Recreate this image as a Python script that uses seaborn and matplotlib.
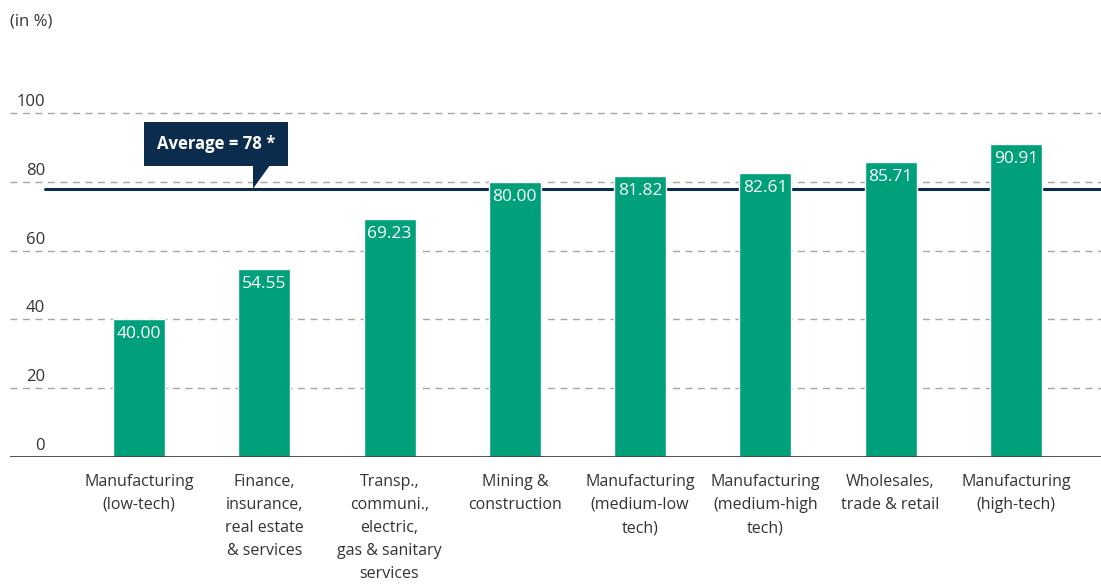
import pandas as pd
import seaborn as sns
import matplotlib.pyplot as plt
from matplotlib.patches import Polygon

# Data
sectors = ['Manufacturing\n(low-tech)',
           'Finance,\ninsurance,\nreal estate\n& services',
           'Transp.,\ncommuni.,\nelectric,\ngas & sanitary\nservices',
           'Mining &\nconstruction',
           'Manufacturing\n(medium-low\ntech)',
           'Manufacturing\n(medium-high\ntech)',
           'Wholesales,\ntrade & retail',
           'Manufacturing\n(high-tech)']
shares = [40.00, 54.55, 69.23, 80.00, 81.82, 82.61, 85.71, 90.91]
average = 78
yticks = [0, 20, 40, 60, 80, 100]

df = pd.DataFrame({'sector': sectors, 'share': shares})

green = '#00a07a'
navy = '#0c2c4e'
grey_txt = '#333333'

sns.set_style('white')
plt.rcParams['font.family'] = ['Open Sans', 'DejaVu Sans']

fig = plt.figure(figsize=(11.01, 5.84), dpi=100)
ax = fig.add_axes([10 / 1101, 127 / 584, 1091 / 1101, 344 / 584])

# grid lines (dashed) behind everything
for t in yticks:
    if t > 0:
        ax.axhline(t, color='#a6a6a6', lw=1, ls=(0, (5, 4)), zorder=0, clip_on=False)
    ax.annotate(str(t), xy=(0, t), xycoords=('axes fraction', 'data'),
                xytext=(35, 3), textcoords='offset pixels',
                ha='right', va='bottom', fontsize=12, color=grey_txt)

# average line
ax.axhline(average, xmin=35 / 1091, xmax=1, color=navy, lw=2.2, zorder=1)

sns.barplot(data=df, x='sector', y='share', color=green, width=0.415,
            saturation=1, ax=ax, zorder=2)

for i, v in enumerate(shares):
    ax.annotate(f'{v:.2f}', xy=(i, v), xytext=(0, -15), textcoords='offset pixels',
                ha='center', va='center', color='white', fontsize=12.5, zorder=3)

# average callout
ax.text(0.615, 91, f'Average = {average} *', ha='center', va='center',
        color='white', fontsize=12, fontweight='bold', zorder=4,
        bbox=dict(boxstyle='square,pad=0.78', fc=navy, ec='none'))
ax.add_patch(Polygon([(0.91, 84.8), (1.045, 84.8), (0.91, average)],
                     closed=True, fc=navy, ec='none', zorder=4))

ax.axhline(0, color='#444444', lw=1.3, zorder=3)

ax.set_xlim(-1.03, 7.68)
ax.set_ylim(0, 100)
ax.set_xlabel('')
ax.set_ylabel('')
ax.set_yticks([])
ax.tick_params(axis='x', length=0, pad=12, labelsize=11.5, labelcolor=grey_txt)
for lab in ax.get_xticklabels():
    lab.set_linespacing(1.6)
for s in ax.spines.values():
    s.set_visible(False)

fig.text(10 / 1101, 1 - 22 / 584, '(in %)', ha='left', va='center',
         fontsize=12, color=grey_txt)

fig.savefig('out.png', dpi=100)
